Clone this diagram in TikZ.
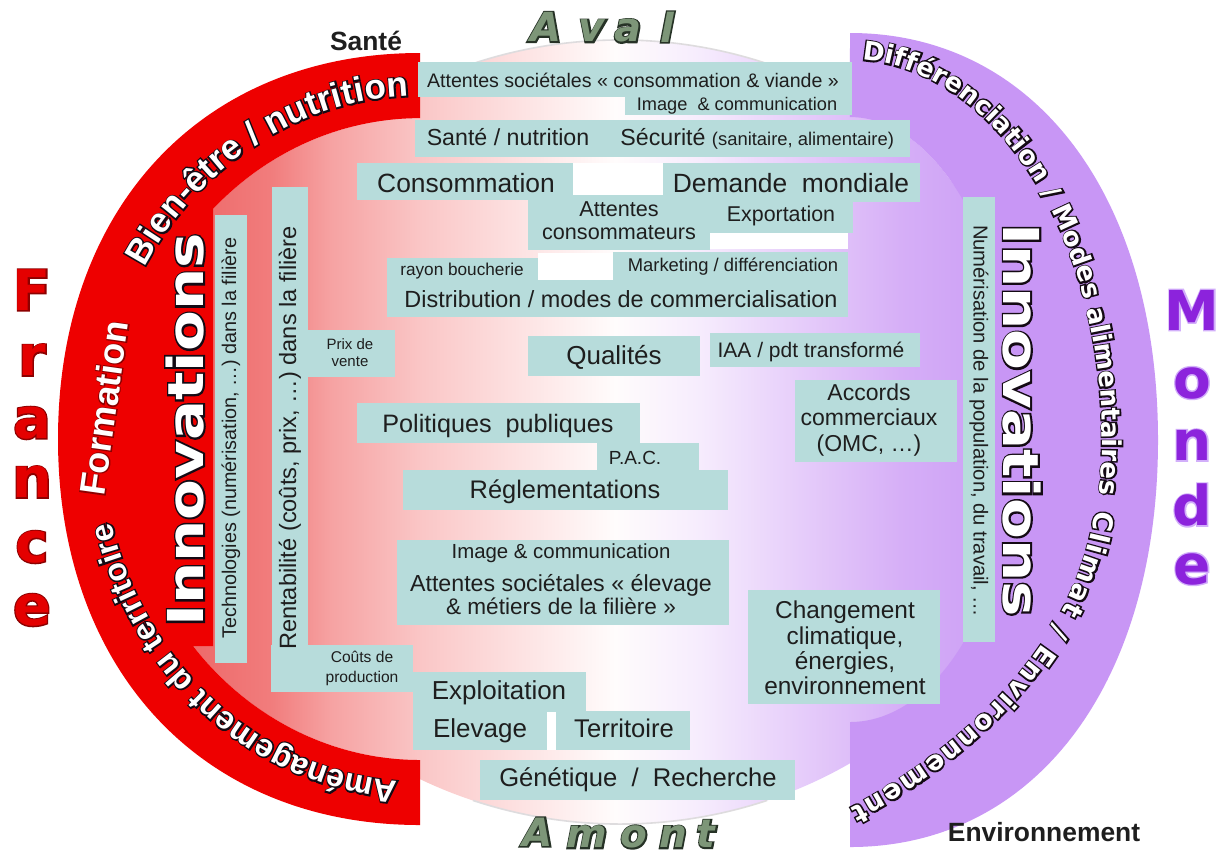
\documentclass[tikz,border=0pt]{standalone}
\usepackage{fontspec}
\setmainfont{Liberation Sans}
\newfontfamily\heavyfont{DejaVu Sans}
\usetikzlibrary{decorations.text}

\definecolor{bandred}{RGB}{238,0,0}
\definecolor{bandviolet}{RGB}{200,150,245}
\definecolor{boxfill}{RGB}{183,220,219}
\definecolor{ink}{RGB}{30,30,30}
\definecolor{rim}{RGB}{222,220,222}
\definecolor{g0}{RGB}{236,95,95}
\definecolor{g1}{RGB}{241,125,125}
\definecolor{g2}{RGB}{246,162,162}
\definecolor{g3}{RGB}{250,198,198}
\definecolor{g4}{RGB}{253,226,226}
\definecolor{g5}{RGB}{255,252,252}
\definecolor{g6}{RGB}{246,236,253}
\definecolor{g7}{RGB}{230,205,250}
\definecolor{g8}{RGB}{214,175,247}
\definecolor{g9}{RGB}{203,158,245}
\definecolor{france}{RGB}{228,0,0}
\definecolor{francedark}{RGB}{140,0,0}
\definecolor{monde}{RGB}{140,35,220}
\definecolor{mondelight}{RGB}{210,175,250}
\definecolor{sage}{RGB}{125,150,120}
\definecolor{sagedark}{RGB}{38,50,38}
\definecolor{edge}{RGB}{20,10,20}

\newcommand\fsz[2]{\fontsize{#1}{#2}\selectfont}
\newcommand\ringfontA{\bfseries\fontsize{17.5}{20}\selectfont}
\newcommand\ringfontB{\bfseries\fontsize{16}{18}\selectfont}
\newcommand\ringfontC{\heavyfont\bfseries\fontsize{13}{15}\selectfont}
\newcommand\ringfontD{\heavyfont\bfseries\fontsize{13.5}{15}\selectfont}

% glyph outlines: a stroked copy under a plain fill
\newcommand\strokeon[1]{\special{pdf:literal direct 2 Tr #1 w}}
\newcommand\strokeoff{\special{pdf:literal direct 0 Tr}}
\newcommand\outlined[4]{%
  \rlap{\color{#2}\strokeon{#1}#4\strokeoff}{\color{#3}#4}}

% outlined white text set along a curve
\newcommand\ringtext[4]{%
  \path[decorate,
    decoration={text along path, text={|#1\strokeon{#4}|#2},
      text color=edge, text align={fit to path}}] #3;
  \path[decorate,
    decoration={text along path, text={|#1|#2},
      text color=white, text align={fit to path}}] #3;
}

% horizontal red - white - violet wash of the core
\newcommand\centralfill{%
  \shade[left color=g0,right color=g1] (150,0) rectangle (272.5,859);
  \shade[left color=g1,right color=g2] (272,0) rectangle (330.5,859);
  \shade[left color=g2,right color=g3] (330,0) rectangle (420.5,859);
  \shade[left color=g3,right color=g4] (420,0) rectangle (520.5,859);
  \shade[left color=g4,right color=g5] (520,0) rectangle (615.5,859);
  \shade[left color=g5,right color=g6] (615,0) rectangle (700.5,859);
  \shade[left color=g6,right color=g7] (700,0) rectangle (800.5,859);
  \shade[left color=g7,right color=g8] (800,0) rectangle (900.5,859);
  \shade[left color=g8,right color=g9] (900,0) rectangle (1000,859);
}

\begin{document}
\begin{tikzpicture}[x=0.5pt, y=-0.5pt,
  panel/.style={fill=boxfill},
  lbl/.style={text=ink, inner sep=0pt},
  ml/.style={lbl, align=center}]
\useasboundingbox (0,0) rectangle (1219,859);
\fill[white] (0,0) rectangle (1219,859);

% core: an oval, plus the hollows inside the two bands
\begin{scope}\clip (620,432) ellipse [x radius=430, y radius=392]; \centralfill\end{scope}
\begin{scope}
  \clip (420,760) arc[start angle=90, end angle=139.8, x radius=297, y radius=321]
    -- (213,646) -- (213,209)
    arc[start angle=225.8, end angle=270, x radius=297, y radius=321]
    -- (440,118) -- (440,760) -- cycle;
  \centralfill
\end{scope}
\begin{scope}
  \clip (850,722) arc[start angle=90, end angle=46.1, x radius=163, y radius=282]
    -- (963,200)
    arc[start angle=-48, end angle=-90, x radius=169, y radius=323]
    -- (830,117) -- (830,722) -- cycle;
  \centralfill
\end{scope}
% faint rim of the oval, top and bottom
\draw[rim, line width=0.8] (472.9,63.6) arc[start angle=250, end angle=290, x radius=430, y radius=392];
\draw[rim, line width=0.8] (767.1,800.4) arc[start angle=70, end angle=110, x radius=430, y radius=392];

% white gaps between panels
\fill[white] (573,163) rectangle (663,195);
\fill[white] (538,253) rectangle (613,280);
\fill[white] (710,233) rectangle (848,249);
\fill[white] (547,712) rectangle (556,750);

% France band
\fill[bandred] (420,53) .. controls (203,53) and (58,207) .. (58,439)
  .. controls (58,671) and (203,825) .. (420,825) -- (420,760)
  arc[start angle=90, end angle=139.8, x radius=297, y radius=321]
  -- (213,646) -- (213,209)
  arc[start angle=225.8, end angle=270, x radius=297, y radius=321] -- cycle;

% Monde band
\fill[bandviolet] (850,33) .. controls (1035,33) and (1158,196) .. (1158,440)
  .. controls (1158,684) and (1035,847) .. (850,847) -- (850,722)
  arc[start angle=90, end angle=46.1, x radius=163, y radius=282]
  -- (963,200)
  arc[start angle=-48, end angle=-90, x radius=169, y radius=323] -- cycle;

% panels
\fill[panel] (418,62) rectangle (852,97);
\fill[panel] (625,96) rectangle (852,115);
\fill[panel] (415,120) rectangle (910,157);
\fill[panel] (357,163) rectangle (573,200);
\fill[panel] (663,163) rectangle (920,202);
\fill[panel] (528,195) rectangle (710,250);
\fill[panel] (709,195) rectangle (853,233);
\fill[panel] (387,258) rectangle (538,281);
\fill[panel] (613,252) rectangle (848,281);
\fill[panel] (387,280) rectangle (848,317);
\fill[panel] (215,215) rectangle (247,663);
\fill[panel] (272,187) rectangle (308,692);
\fill[panel] (307,330) rectangle (395,377);
\fill[panel] (528,336) rectangle (700,376);
\fill[panel] (710,333) rectangle (920,367);
\fill[panel] (795,380) rectangle (957,462);
\fill[panel] (357,403) rectangle (640,443);
\fill[panel] (597,443) rectangle (699,471);
\fill[panel] (403,470) rectangle (728,510);
\fill[panel] (397,540) rectangle (729,625);
\fill[panel] (748,590) rectangle (940,704);
\fill[panel] (271,645) rectangle (413,692);
\fill[panel] (413,672) rectangle (586,712);
\fill[panel] (413,711) rectangle (547,750);
\fill[panel] (556,711) rectangle (690,750);
\fill[panel] (480,760) rectangle (795,800);
\fill[panel] (963,197) rectangle (995,642);

% panel texts
\node[lbl, anchor=base, font=\fsz{9.8}{11}] (attsoc) at (633,87) {Attentes sociétales « consommation \& viande »};
\node[lbl, anchor=base, font=\fsz{9.1}{11}] (imgtop) at (737,110) {Image~ \& communication};
\node[lbl, anchor=base, font=\fsz{11.6}{14}] (sante) at (508,145) {Santé / nutrition};
\node[lbl, anchor=base west] (secu) at (620,145) {\fsz{11.6}{14}Sécurité \fsz{9.2}{11}(sanitaire, alimentaire)};
\node[lbl, anchor=base, font=\fsz{13.2}{15}] (conso) at (466,192) {Consommation};
\node[lbl, anchor=base, font=\fsz{13.2}{15}] (demande) at (791,192) {Demande~ mondiale};
\node[ml, font=\fsz{10.8}{11.5}] (attcons) at (619,221) {Attentes\\consommateurs};
\node[lbl, anchor=base, font=\fsz{10.7}{12}] (export) at (781,221.5) {Exportation};
\node[lbl, anchor=base, font=\fsz{8.6}{10}] (rayon) at (462,275) {rayon boucherie};
\node[lbl, anchor=base, font=\fsz{9.2}{11}] (market) at (733,271.5) {Marketing / différenciation};
\node[lbl, anchor=base, font=\fsz{11.7}{13}] (distrib) at (621,307) {Distribution / modes de commercialisation};
\node[ml, font=\fsz{7.5}{8.5}] (prix) at (350,353) {Prix de\\vente};
\node[lbl, anchor=base, font=\fsz{13}{15}] (qual) at (614,364) {Qualités};
\node[lbl, anchor=base, font=\fsz{10.5}{12}] (iaa) at (811,357) {IAA / pdt transformé};
\node[ml, font=\fsz{11.5}{12.75}] (accords) at (869,420) {Accords\\commerciaux\\(OMC, …)};
\node[lbl, anchor=base, font=\fsz{12.6}{14}] (polit) at (498,432) {Politiques~ publiques};
\node[lbl, anchor=base, font=\fsz{9.5}{11}] (pac) at (635,464) {P.A.C.};
\node[lbl, anchor=base, font=\fsz{12.7}{14}] (regl) at (565,498) {Réglementations};
\node[lbl, anchor=base, font=\fsz{10.2}{12}] (imgbot) at (561,558) {Image \& communication};
\node[lbl, anchor=base, font=\fsz{11.6}{13}] (attelev) at (561,591) {Attentes sociétales « élevage};
\node[lbl, anchor=base, font=\fsz{11.3}{13}] (metiers) at (561,614) {\& métiers de la filière »};
\node[ml, font=\fsz{12.2}{12.6}] (climat) at (845,648) {Changement\\climatique,\\énergies,\\environnement};
\node[ml, font=\fsz{7.8}{10}] (couts) at (362,668) {Coûts de\\production};
\node[lbl, anchor=base, font=\fsz{13}{15}] (exploit) at (499,699) {Exploitation};
\node[lbl, anchor=base, font=\fsz{13}{15}] (elev) at (480,737) {Elevage};
\node[lbl, anchor=base, font=\fsz{12.8}{15}] (terr) at (624,737) {Territoire};
\node[lbl, anchor=base, font=\fsz{12.8}{15}] (genet) at (638,786) {Génétique~ /~ Recherche};
\node[lbl, rotate=90, font=\fsz{9.9}{11}] (techno) at (231,438) {Technologies (numérisation, …) dans la filière};
\node[lbl, rotate=90, font=\fsz{11.8}{13}] (rentab) at (290,438) {Rentabilité (coûts, prix, …) dans la filière};
\node[lbl, rotate=-90, font=\fsz{10.1}{12}] (numer) at (979,421) {Numérisation de la population, du travail, …};

% corner labels
\node[lbl, anchor=base, font=\bfseries\fsz{13.2}{15}] (santelbl) at (366,50) {Santé};
\node[lbl, anchor=base, font=\bfseries\fsz{13.2}{15}] (envlbl) at (1044,841) {Environnement};

% Innovations
\node[inner sep=0pt, rotate=90] (innovl) at (185,430)
  {\heavyfont\bfseries\fsz{24.75}{26}\scalebox{1.2}[1]{\outlined{1.6}{edge}{white}{Innovations}}};
\node[inner sep=0pt, rotate=-90] (innovr) at (1022,420)
  {\heavyfont\bfseries\fsz{24.75}{26}\scalebox{1.2}[1]{\outlined{1.6}{edge}{white}{Innovations}}};
\node[inner sep=0pt, rotate=82] (formation) at (104,408)
  {\bfseries\fsz{18}{20}\outlined{1}{francedark}{white}{Formation}};

% texts along the bands
\ringtext{\ringfontA}{Bien-être / nutrition}
  {(144.6,267.5) arc[start angle=210, end angle=268, x radius=318, y radius=343]}{1.4}
\ringtext{\ringfontB}{Aménagement du territoire}
  {(397.8,781.2) arc[start angle=94, end angle=166, x radius=318, y radius=343]}{1.4}
\ringtext{\ringfontC}{Différenciation / Modes alimentaires}
  {(862,60) arc[start angle=-87.3, end angle=8.3, x radius=252, y radius=380]}{1.5}
\ringtext{\ringfontD}{Climat / Environnement}
  {(1095,510) .. controls (1077,645) and (960,750) .. (850,808)}{1.5}

% France / Monde
\foreach \ch/\yy [count=\i] in {F/290,r/360,a/423,n/482,c/547,e/610}
  \node[inner sep=0pt] (fr\i) at (32,\yy) {\heavyfont\bfseries\fsz{28}{30}\outlined{1.2}{francedark}{france}{\ch}};
\foreach \ch/\yy [count=\i] in {M/310,o/383,n/445,d/505,e/569}
  \node[inner sep=0pt] (mo\i) at (1192,\yy) {\heavyfont\bfseries\fsz{27.5}{30}\outlined{1.4}{mondelight}{monde}{\ch}};

% Aval / Amont
\foreach \ch/\xx/\yy [count=\i] in {A/546/27,v/592/31,a/628/31,l/667/27}
  \node[inner sep=0pt] (av\i) at (\xx,\yy) {\heavyfont\bfseries\itshape\fsz{20}{22}\outlined{1.5}{sagedark}{sage}{\ch}};
\foreach \ch/\xx/\yy [count=\i] in {A/538/832,m/587/837,o/634/837,n/673/837,t/706/834}
  \node[inner sep=0pt] (am\i) at (\xx,\yy) {\heavyfont\bfseries\itshape\fsz{19.5}{22}\outlined{1.5}{sagedark}{sage}{\ch}};
\end{tikzpicture}
\end{document}
